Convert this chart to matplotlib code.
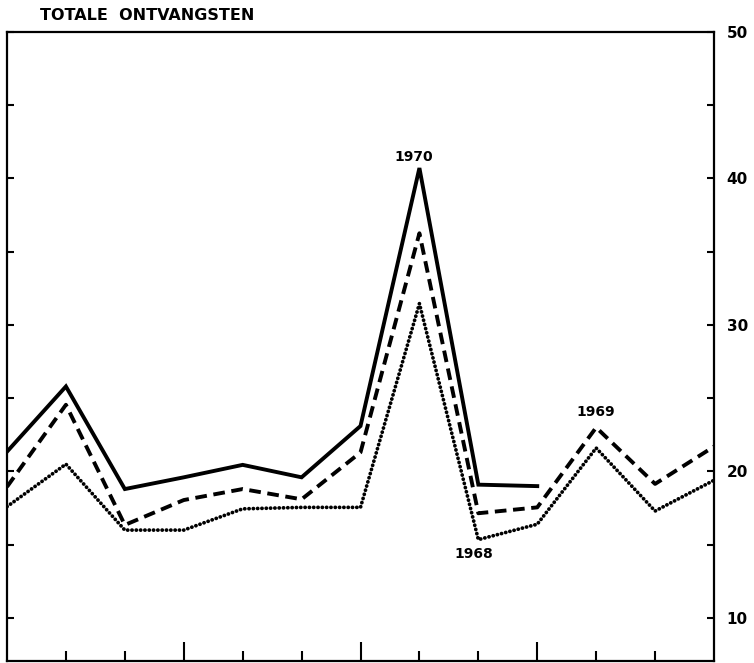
import matplotlib
matplotlib.use("Agg")
import matplotlib.pyplot as plt
import numpy as np

# Data (index positions along the x axis; 0 = left edge, 12 = right edge)
positions = list(range(13))
series_1970 = [21.35, 25.8, 18.8, 19.6, 20.45, 19.6, 23.1, 40.7, 19.1, 19.0, None, None, None]
series_1969 = [18.95, 24.55, 16.35, 18.05, 18.8, 18.1, 21.3, 36.25, 17.15, 17.55, 23.0, 19.15, 21.7]
series_1968 = [17.6, 20.5, 16.0, 16.0, 17.45, 17.55, 17.55, 31.45, 15.35, 16.4, 21.6, 17.3, 19.4]
y_tick_labels = [10, 20, 30, 40, 50]
title = "TOTALE  ONTVANGSTEN"

W, H = 754, 663
fig = plt.figure(figsize=(W / 100, H / 100), dpi=100)
ax = fig.add_axes([7 / W, (H - 661) / H, (714 - 7) / W, (661 - 31.7) / H])

def arr(v):
    return np.array([np.nan if a is None else a for a in v], dtype=float)

ax.plot(positions, arr(series_1970), color="black", lw=2.8, solid_joinstyle="miter")
ax.plot(positions, arr(series_1969), color="black", lw=2.8, linestyle=(0, (3.0, 1.7)))
ax.plot(positions, arr(series_1968), color="black", lw=2.7, linestyle=(0, (0.05, 1.1)),
        dash_capstyle="round")

ax.set_xlim(0, 12)
ax.set_ylim(7.07, 50)

for s in ax.spines.values():
    s.set_linewidth(1.6)

# x ticks: inside, long every third position
ax.set_xticks([3, 6, 9])
ax.set_xticks([1, 2, 4, 5, 7, 8, 10, 11], minor=True)
ax.tick_params(axis="x", which="major", direction="in", length=14, width=1.5, labelbottom=False)
ax.tick_params(axis="x", which="minor", direction="in", length=7.5, width=1.5, labelbottom=False)

# y ticks: inside on both sides, labels only on right
yt = np.arange(10, 51, 5)
ax.set_yticks(yt)
ax.set_yticklabels([str(int(v)) if v in y_tick_labels else "" for v in yt])
ax.yaxis.set_ticks_position("both")
ax.tick_params(axis="y", direction="in", length=5, width=1.5, labelleft=False, labelright=True,
               pad=9, labelsize=11)
for lbl in ax.get_yticklabels():
    lbl.set_fontweight("semibold")

# annotations
ax.annotate("1970", xy=(7, 40.7), xytext=(-4, 8), textcoords="offset points",
            ha="center", va="center", fontsize=10, fontweight="bold")
ax.annotate("1969", xy=(10, 23.0), xytext=(0, 11), textcoords="offset points",
            ha="center", va="center", fontsize=10, fontweight="bold")
ax.annotate("1968", xy=(8, 15.35), xytext=(-3, -10), textcoords="offset points",
            ha="center", va="center", fontsize=10, fontweight="bold")

fig.text(40 / W, 1 - 15 / H, title, ha="left", va="center", fontsize=11.5, fontweight="bold")

fig.savefig("out.png", dpi=100)
